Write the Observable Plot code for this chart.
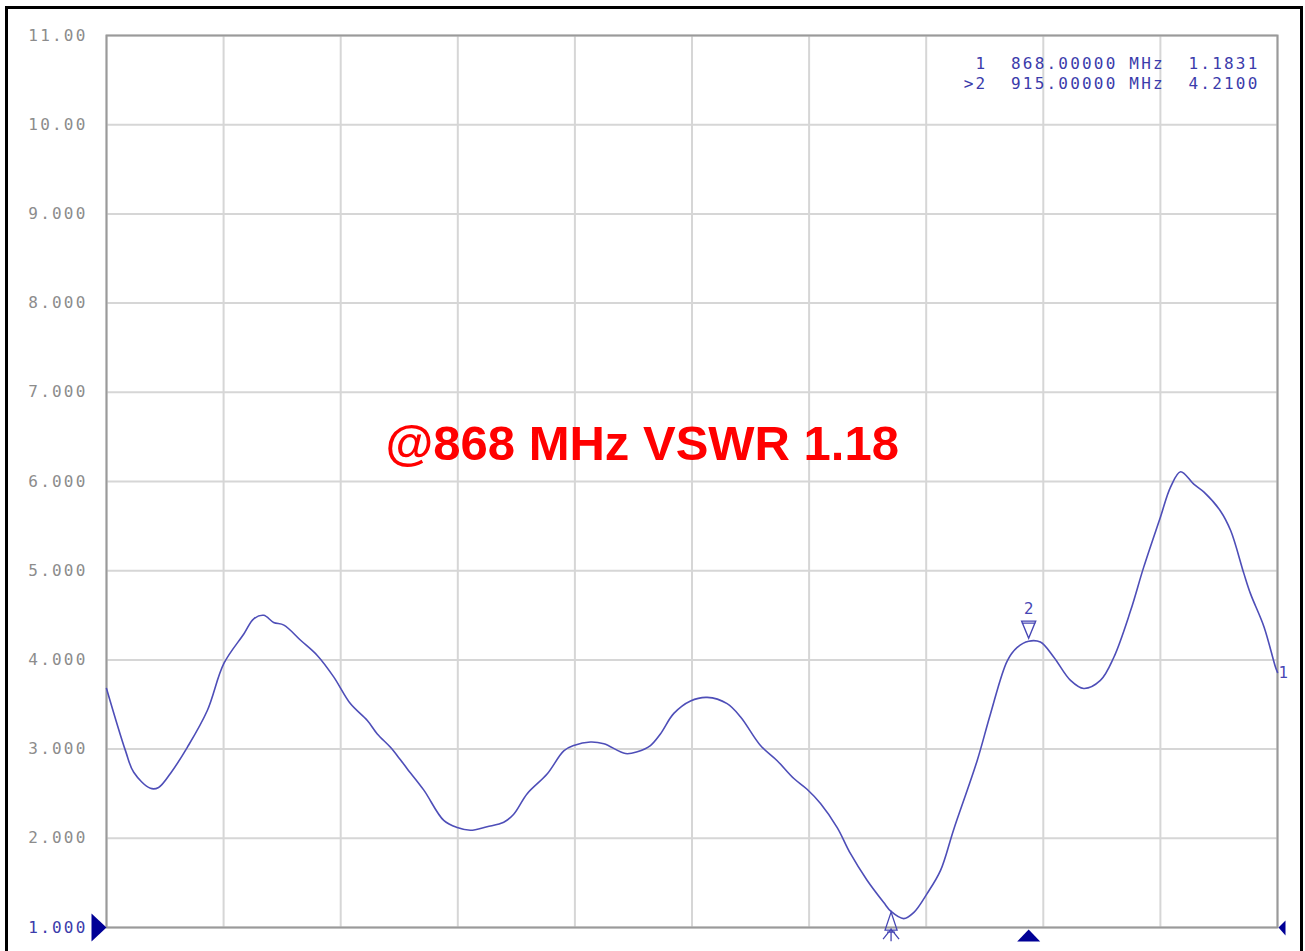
<!DOCTYPE html>
<html>
<head>
<meta charset="utf-8">
<script src="https://cdn.jsdelivr.net/npm/d3@7"></script>
<script src="https://cdn.jsdelivr.net/npm/@observablehq/plot@0.6"></script>
<style>
html, body { margin: 0; padding: 0; background: #fff; width: 1305px; height: 951px; overflow: hidden; }
#chart { position: absolute; left: 0; top: 0; }
#frame { position: absolute; left: 5px; top: 6px; width: 1298px; height: 1000px; border: 3px solid #000; box-sizing: border-box; pointer-events: none; }
#chart g[font-family*="Mono"] text { letter-spacing: 2.2px; }
</style>
</head>
<body>
<div id="chart"></div>
<div id="frame"></div>
<script>
// ---- data ----
const freqMHz = [600.0, 606.5, 609.3, 615.0, 617.8, 621.9, 627.6, 634.4, 640.1, 646.9, 650.3, 653.7, 657.1, 660.6, 666.3, 672.0, 677.6, 683.3, 689.1, 692.5, 697.0, 700.4, 702.7, 708.4, 715.2, 719.8, 724.3, 730.0, 735.7, 739.1, 743.7, 750.5, 756.2, 759.6, 765.3, 769.9, 777.3, 781.3, 785.8, 789.2, 793.8, 799.5, 805.2, 812.0, 816.6, 823.4, 829.1, 834.8, 839.3, 843.9, 849.6, 854.1, 859.8, 865.5, 868.0, 872.3, 875.8, 880.3, 884.9, 889.4, 897.4, 902.0, 907.7, 911.1, 915.0, 919.0, 923.6, 929.3, 933.8, 939.5, 944.1, 949.8, 954.3, 960.0, 963.5, 966.9, 971.4, 974.9, 980.5, 984.0, 988.5, 990.8, 995.4, 999.3, 1000.0];
const vswr = [3.68, 2.98, 2.74, 2.56, 2.57, 2.73, 3.02, 3.43, 3.96, 4.29, 4.46, 4.50, 4.42, 4.39, 4.22, 4.05, 3.81, 3.51, 3.32, 3.17, 3.02, 2.88, 2.78, 2.54, 2.20, 2.12, 2.09, 2.13, 2.18, 2.27, 2.50, 2.72, 2.98, 3.04, 3.08, 3.06, 2.95, 2.97, 3.04, 3.17, 3.40, 3.54, 3.58, 3.51, 3.36, 3.04, 2.87, 2.67, 2.55, 2.39, 2.12, 1.83, 1.53, 1.28, 1.18, 1.10, 1.17, 1.38, 1.64, 2.10, 2.87, 3.40, 3.99, 4.14, 4.21, 4.20, 4.03, 3.77, 3.68, 3.77, 4.03, 4.55, 5.04, 5.60, 5.94, 6.11, 5.97, 5.88, 5.67, 5.45, 4.97, 4.74, 4.37, 3.92, 3.86];

const xDomain = [600, 1000];
const yDomain = [1, 11];
const xGridTicks = [600, 640, 680, 720, 760, 800, 840, 880, 920, 960, 1000];
const yGridTicks = [1, 2, 3, 4, 5, 6, 7, 8, 9, 10, 11];
const yTickLabels = ["1.000", "2.000", "3.000", "4.000", "5.000", "6.000", "7.000", "8.000", "9.000", "10.00", "11.00"];

const markerNames = ["1", ">2"];
const markerIds = ["1", "2"];
const markerFreq = [868, 915];
const markerVal = [1.1831, 4.2100];
const activeMarker = 1; // index of marker 2

const traceLabel = "1";
const annotationText = "@868 MHz VSWR 1.18";
const annotationFreq = 695.3;
const annotationVswr = 6.24;

// ---- build ----
const trace = freqMHz.map((f, i) => ({f, v: vswr[i]}));
const NB = "\u00A0";
const readout = markerNames.map((n, i) =>
  n + NB + NB + markerFreq[i].toFixed(5) + NB + "MHz" + NB + NB + markerVal[i].toFixed(4)
).join("\n");

const blue = "#3b3bab";
const navy = "#000096";
const mono = "'DejaVu Sans Mono', 'Liberation Mono', monospace";

// custom symbols
const symMarker2 = {draw(c) { c.moveTo(0, -3); c.lineTo(-7, -20); c.lineTo(7, -20); c.closePath(); c.moveTo(-7, -18); c.lineTo(7, -18); }};
const symMarker1 = {draw(c) { c.moveTo(0, 1); c.lineTo(-6, 19); c.lineTo(6, 19); c.closePath();
  c.moveTo(0, 18); c.lineTo(-8, 28); c.moveTo(0, 18); c.lineTo(8, 28); c.moveTo(0, 17); c.lineTo(0, 30); c.moveTo(-4, 21); c.lineTo(4, 21); }};
const symStim = {draw(c) { c.moveTo(0, 2); c.lineTo(-11.5, 14); c.lineTo(11.5, 14); c.closePath(); }};
const symRefLeft = {draw(c) { c.moveTo(0, 0); c.lineTo(-15, -14); c.lineTo(-15, 14); c.closePath(); }};
const symRefRight = {draw(c) { c.moveTo(1, 0); c.lineTo(8, -7); c.lineTo(8, 8); c.closePath(); }};

const markers = markerFreq.map((f, i) => ({f, v: markerVal[i], id: markerIds[i]}));

const fmtTick = d => yTickLabels[yGridTicks.indexOf(d)];

const chart = Plot.plot({
  width: 1305,
  height: 951,
  marginLeft: 106,
  marginTop: 35,
  marginRight: 28,
  marginBottom: 24,
  x: {domain: xDomain, axis: null, label: null},
  y: {domain: yDomain, axis: null, label: null},
  style: {background: "transparent", overflow: "visible"},
  marks: [
    Plot.gridX(xGridTicks, {stroke: "#d6d6d6", strokeOpacity: 1, strokeWidth: 2}),
    Plot.gridY(yGridTicks, {stroke: "#d6d6d6", strokeOpacity: 1, strokeWidth: 2}),
    Plot.frame({stroke: "#9a9a9a", strokeWidth: 2}),
    Plot.axisY(yGridTicks.filter(d => d !== 1), {label: null, tickSize: 0, tickPadding: 19, tickFormat: fmtTick, fill: "#8c8c8c", fontSize: 16, fontFamily: mono}),
    Plot.axisY([1], {label: null, tickSize: 0, tickPadding: 19, tickFormat: fmtTick, fill: blue, fontSize: 16, fontFamily: mono}),
    Plot.line(trace, {x: "f", y: "v", stroke: "#4e4eb8", strokeWidth: 1.6, curve: "catmull-rom"}),
    // reference / stimulus markers
    Plot.dot([{f: xDomain[0], v: yDomain[0]}], {x: "f", y: "v", symbol: symRefLeft, fill: navy, stroke: "none"}),
    Plot.dot([{f: xDomain[1], v: yDomain[0]}], {x: "f", y: "v", symbol: symRefRight, fill: navy, stroke: "none"}),
    Plot.dot([markers[activeMarker]], {x: "f", y: () => yDomain[0], symbol: symStim, fill: navy, stroke: "none"}),
    // trace markers
    Plot.dot([markers[0]], {x: "f", y: "v", symbol: symMarker1, fill: "none", stroke: "#4646b4", strokeWidth: 1.3}),
    Plot.dot([markers[1]], {x: "f", y: "v", symbol: symMarker2, fill: "none", stroke: "#4646b4", strokeWidth: 1.4}),
    Plot.text([markers[1]], {x: "f", y: "v", text: "id", dy: -32, fill: "#4646b4", fontSize: 15, fontFamily: "DejaVu Sans"}),
    // trace end label
    Plot.text([trace[trace.length - 1]], {x: "f", y: "v", text: () => traceLabel, dx: 6, dy: 1, fill: "#4646b4", fontSize: 15, fontFamily: "DejaVu Sans"}),
    // marker readout
    Plot.text([readout], {frameAnchor: "top-right", text: d => d, dx: -18, dy: 20, lineAnchor: "top", lineHeight: 1.22, textAnchor: "end", fill: blue, fontSize: 16, fontFamily: mono}),
    // annotation
    Plot.text([annotationText], {x: () => annotationFreq, y: () => annotationVswr, text: d => d, textAnchor: "start", lineAnchor: "bottom", fill: "#ff0000", fontSize: 49, fontWeight: "bold", fontFamily: "'Liberation Sans', Arial, sans-serif"})
  ]
});
document.getElementById("chart").appendChild(chart);
</script>
</body>
</html>
